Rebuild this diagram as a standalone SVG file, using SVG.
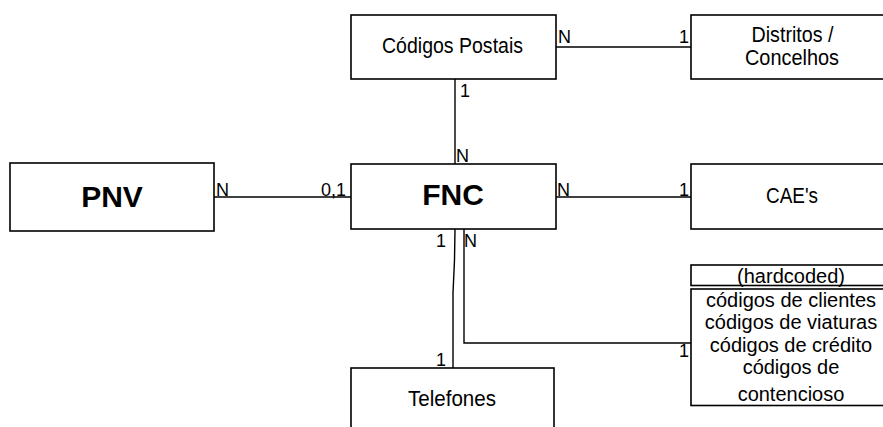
<svg xmlns="http://www.w3.org/2000/svg" width="883" height="427" viewBox="0 0 883 427">
<style>
.box{fill:#fff;stroke:#000;stroke-width:1.6}
.ln{fill:none;stroke:#000;stroke-width:1.4}
text{font-family:"Liberation Sans",Arial,sans-serif;fill:#000}
.t{font-size:20px;text-anchor:middle}
.n{font-size:21.5px;text-anchor:middle}
.b{font-size:30px;font-weight:bold;text-anchor:middle}
.l{font-size:18px}
</style>
<rect width="883" height="427" fill="#fff"/>
<g id="connectors">
<line class="ln" x1="556" y1="47" x2="691" y2="47"/>
<line class="ln" x1="455" y1="79" x2="455" y2="164"/>
<line class="ln" x1="214" y1="197" x2="351" y2="197"/>
<line class="ln" x1="556" y1="197" x2="691" y2="197"/>
<polyline class="ln" points="455,229 454.5,260 453,293 453,368"/>
<polyline class="ln" points="464,229 464,343 691,343"/>
<text class="l" x="558" y="43">N</text>
<text class="l" x="679" y="43">1</text>
<text class="l" x="460" y="97">1</text>
<text class="l" x="456" y="162">N</text>
<text class="l" x="216" y="196">N</text>
<text class="l" x="321" y="196">0,1</text>
<text class="l" x="557" y="196">N</text>
<text class="l" x="679" y="196">1</text>
<text class="l" x="436" y="247">1</text>
<text class="l" x="464" y="247">N</text>
<text class="l" x="436" y="366">1</text>
<text class="l" x="679" y="357">1</text>
</g>
<g id="codigos-postais">
<rect class="box" x="351" y="15" width="205" height="64"/>
<text class="n" x="452.5" y="53" textLength="141" lengthAdjust="spacingAndGlyphs">Códigos Postais</text>
</g>
<g id="distritos">
<rect class="box" x="691" y="15" width="202" height="64"/>
<text class="n" x="792.5" y="42" textLength="82" lengthAdjust="spacingAndGlyphs">Distritos /</text>
<text class="n" x="792" y="65" textLength="94" lengthAdjust="spacingAndGlyphs">Concelhos</text>
</g>
<g id="pnv">
<rect class="box" x="10" y="163" width="204" height="68"/>
<text class="b" x="112" y="207">PNV</text>
</g>
<g id="fnc">
<rect class="box" x="351" y="164" width="205" height="65"/>
<text class="b" x="453" y="205">FNC</text>
</g>
<g id="caes">
<rect class="box" x="691" y="164" width="202" height="65"/>
<text class="n" x="792" y="203" textLength="52" lengthAdjust="spacingAndGlyphs">CAE's</text>
</g>
<g id="hardcoded">
<rect class="box" x="691" y="265" width="202" height="20.5"/>
<text class="t" x="791" y="283">(hardcoded)</text>
<rect class="box" x="691" y="289" width="202" height="116.5"/>
<text class="t" x="791" y="307">códigos de clientes</text>
<text class="t" x="791" y="329">códigos de viaturas</text>
<text class="t" x="791" y="351.5">códigos de crédito</text>
<text class="t" x="791" y="373.5">códigos de</text>
<text class="t" x="791" y="401">contencioso</text>
</g>
<g id="telefones">
<rect class="box" x="351" y="368" width="203" height="70"/>
<text class="n" x="452" y="406" textLength="88" lengthAdjust="spacingAndGlyphs">Telefones</text>
</g>
</svg>
